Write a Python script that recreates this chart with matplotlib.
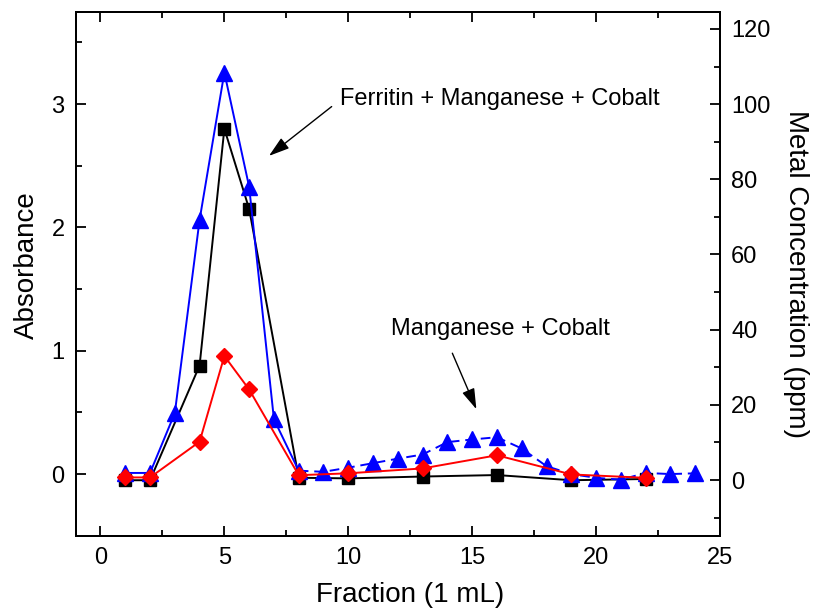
import matplotlib.pyplot as plt
from matplotlib.ticker import MultipleLocator

plt.rcParams["font.family"] = ["Liberation Sans", "DejaVu Sans"]

# absorbance (left axis)
abs_x = [1, 2, 4, 5, 6, 8, 10, 13, 16, 19, 22]
abs_y = [-0.05, -0.05, 0.88, 2.80, 2.15, -0.03, -0.035, -0.02, -0.008, -0.05, -0.04]

# metal concentration, blue triangles (right axis)
blue_x = list(range(1, 25))
blue_y = [1.9, 1.9, 17.8, 69.2, 108.4, 78.0, 16.2, 2.5, 2.2, 3.3, 4.5, 5.7,
          6.8, 10.1, 10.8, 11.4, 8.4, 3.7, 1.6, 0.6, 0.1, 1.9, 1.6, 1.8]

# metal concentration, red diamonds (right axis)
red_x = [1, 2, 4, 5, 6, 8, 10, 13, 16, 19, 22]
red_y = [0.7, 0.7, 10.2, 33.0, 24.1, 1.3, 1.8, 3.1, 6.6, 1.5, 0.6]

fig, ax = plt.subplots(figsize=(8.2, 6.11), dpi=100)
fig.subplots_adjust(left=0.0923, right=0.878, top=0.981, bottom=0.1232)
ax2 = ax.twinx()

ax.plot(abs_x, abs_y, color="black", lw=1.4, marker="s", ms=8, zorder=3)

n = 8  # peak part drawn solid, tail dashed
ax2.plot(blue_x[:n], blue_y[:n], color="blue", lw=1.4, zorder=2)
ax2.plot(blue_x[n - 1:], blue_y[n - 1:], color="blue", lw=1.4,
         ls=(0, (5, 3)), zorder=2)
ax2.plot(blue_x, blue_y, ls="none", color="blue", marker="^", ms=11, zorder=2)
ax2.plot(red_x, red_y, color="red", lw=1.4, marker="D", ms=8.2, zorder=4)

ax.set_xlim(-1, 25)
ax.set_ylim(-0.5, 3.75)
ax2.set_ylim(-14.8, 124.6)

ax.xaxis.set_major_locator(MultipleLocator(5))
ax.xaxis.set_minor_locator(MultipleLocator(2.5))
ax.yaxis.set_major_locator(MultipleLocator(1))
ax.yaxis.set_minor_locator(MultipleLocator(0.5))
ax2.yaxis.set_major_locator(MultipleLocator(20))
ax2.yaxis.set_minor_locator(MultipleLocator(10))

ax.tick_params(which="both", direction="in", top=True, right=False,
               labelsize=17, width=1.3, pad=8)
ax.tick_params(which="major", length=7)
ax.tick_params(which="minor", length=4.5)
ax2.tick_params(which="both", direction="in", labelsize=17, width=1.3, pad=8)
ax2.tick_params(which="major", length=7)
ax2.tick_params(which="minor", length=4.5)
for a in (ax, ax2):
    for s in a.spines.values():
        s.set_linewidth(1.4)

ax.set_xlabel("Fraction (1 mL)", fontsize=20)
ax.xaxis.set_label_coords(0.519, -0.088)
ax.set_ylabel("Absorbance", fontsize=20)
ax.yaxis.set_label_coords(-0.055, 0.517)
ax2.set_ylabel("Metal Concentration (ppm)", fontsize=20, rotation=270,
               labelpad=28)

arrow = dict(arrowstyle="-|>,head_length=0.7,head_width=0.22", color="black",
             lw=1, mutation_scale=18, shrinkA=0, shrinkB=0)
ax.annotate("", xy=(6.8, 2.58), xytext=(9.33, 2.98), arrowprops=arrow)
ax.text(9.65, 3.04, "Ferritin + Manganese + Cobalt", fontsize=17,
        ha="left", va="center")
ax.annotate("", xy=(15.17, 0.526), xytext=(14.2, 0.98), arrowprops=arrow)
ax.text(11.74, 1.18, "Manganese + Cobalt", fontsize=17,
        ha="left", va="center")

fig.savefig("out.png", dpi=100)
